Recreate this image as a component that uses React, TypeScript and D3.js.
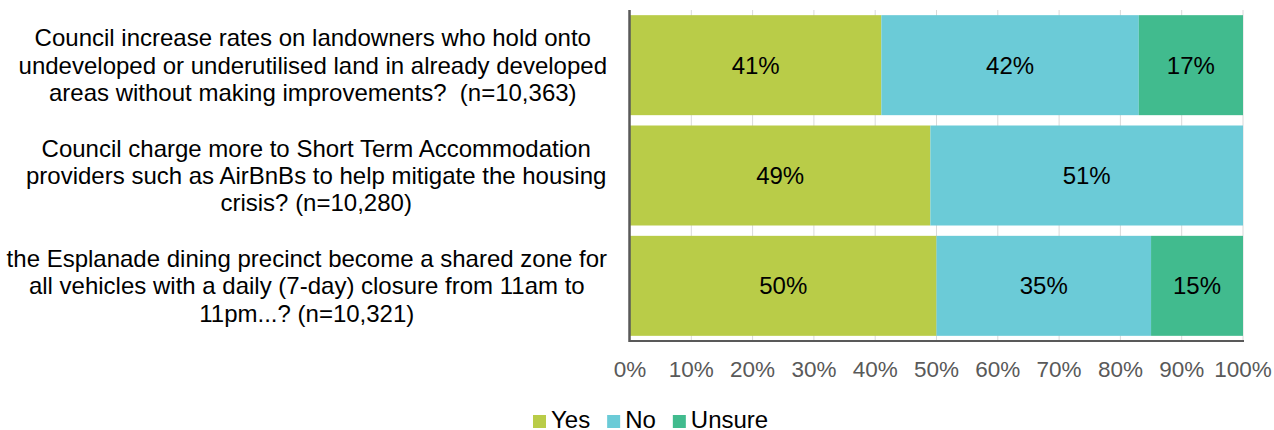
import React from "react";
import * as d3 from "d3";

const categories: string[][] = [
  [
    "Council increase rates on landowners who hold onto",
    "undeveloped or underutilised land in already developed",
    "areas without making improvements?  (n=10,363)",
  ],
  [
    "Council charge more to Short Term Accommodation",
    "providers such as AirBnBs to help mitigate the housing",
    "crisis? (n=10,280)",
  ],
  [
    "the Esplanade dining precinct become a shared zone for",
    "all vehicles with a daily (7-day) closure from 11am to",
    "11pm...? (n=10,321)",
  ],
];

const seriesNames = ["Yes", "No", "Unsure"];
const yesValues = [41, 49, 50];
const noValues = [42, 51, 35];
const unsureValues = [17, 0, 15];
const tickValues = [0, 10, 20, 30, 40, 50, 60, 70, 80, 90, 100];
const seriesColors = ["#B9CC48", "#6BCBD7", "#41BB8E"];

const FONT = "'Liberation Sans', Arial, sans-serif";

let ctx: CanvasRenderingContext2D | null = null;
function measure(text: string, size: number): number {
  if (!ctx) {
    const c = document.createElement("canvas");
    ctx = c.getContext("2d");
  }
  if (!ctx) return text.length * size * 0.5;
  ctx.font = `${size}px ${FONT}`;
  return ctx.measureText(text).width;
}

export default function App() {
  const width = 1274;
  const height = 430;
  const left = 630;
  const right = 1243;
  const top = 10;
  const bottom = 341;

  const x = d3.scaleLinear().domain([0, 100]).range([left, right]);
  const idx = categories.map((_, i) => String(i));
  const step = (bottom - top) / categories.length;
  const pad = (step - 100) / step;
  const y = d3
    .scaleBand<string>()
    .domain(idx)
    .range([top, bottom])
    .paddingInner(pad)
    .paddingOuter(pad / 2);

  const rows = categories.map((_, i) => ({
    Yes: yesValues[i],
    No: noValues[i],
    Unsure: unsureValues[i],
  }));
  const stack = d3.stack<any>().keys(seriesNames)(rows);

  const labelSize = 24;
  const lineH = 27.3;
  const labelRight = 607;

  const legendSize = 24;
  let lx = 533;
  const legendItems = seriesNames.map((name, i) => {
    const item = { name, color: seriesColors[i], x: lx };
    lx += 13 + 5 + measure(name, legendSize) + 17;
    return item;
  });

  return (
    <div style={{ position: "absolute", left: 0, top: 0 }}>
      <svg width={width} height={height} style={{ display: "block", fontFamily: FONT }}>
        <rect width={width} height={height} fill="#ffffff" />
        {/* gridlines */}
        {tickValues
          .filter((t) => t > 0)
          .map((t) => (
            <line
              key={"g" + t}
              x1={x(t)}
              x2={x(t)}
              y1={top}
              y2={bottom}
              stroke="#D9D9D9"
              strokeWidth={1}
            />
          ))}
        {/* bars */}
        {stack.map((s, si) =>
          s.map((d, i) => {
            const w = x(d[1]) - x(d[0]);
            if (w <= 0) return null;
            return (
              <rect
                key={`b${si}-${i}`}
                x={x(d[0])}
                y={y(String(i))}
                width={w}
                height={y.bandwidth()}
                fill={seriesColors[si]}
              />
            );
          })
        )}
        {/* bar labels */}
        {stack.map((s, si) =>
          s.map((d, i) => {
            const v = d[1] - d[0];
            if (v <= 0) return null;
            return (
              <text
                key={`l${si}-${i}`}
                x={(x(d[0]) + x(d[1])) / 2}
                y={(y(String(i)) as number) + y.bandwidth() / 2 + 8.5}
                textAnchor="middle"
                fontSize={24}
                fill="#000000"
              >
                {v}%
              </text>
            );
          })
        )}
        {/* axes */}
        <line x1={left - 1} x2={right + 1} y1={bottom} y2={bottom} stroke="#595959" strokeWidth={2} />
        <line x1={left - 0.5} x2={left - 0.5} y1={top} y2={bottom + 1} stroke="#595959" strokeWidth={2.5} />
        {/* x tick labels */}
        {tickValues.map((t) => (
          <text
            key={"t" + t}
            x={x(t)}
            y={377}
            textAnchor="middle"
            fontSize={22.5}
            fill="#595959"
          >
            {t}%
          </text>
        ))}
        {/* category labels */}
        {categories.map((lines, i) => {
          const maxW = d3.max(lines, (l) => measure(l, labelSize)) || 0;
          const cx = labelRight - maxW / 2;
          const cy = (y(String(i)) as number) + y.bandwidth() / 2;
          return (
            <text
              key={"c" + i}
              textAnchor="middle"
              fontSize={labelSize}
              fill="#000000"
              style={{ whiteSpace: "pre" }}
            >
              {lines.map((l, j) => (
                <tspan key={j} x={cx} y={cy + (j - (lines.length - 1) / 2) * lineH + 8.5}>
                  {l}
                </tspan>
              ))}
            </text>
          );
        })}
        {/* legend */}
        {legendItems.map((it) => (
          <g key={it.name}>
            <rect x={it.x} y={415} width={13} height={13} fill={it.color} />
            <text x={it.x + 18} y={428} fontSize={legendSize} fill="#000000">
              {it.name}
            </text>
          </g>
        ))}
      </svg>
    </div>
  );
}
